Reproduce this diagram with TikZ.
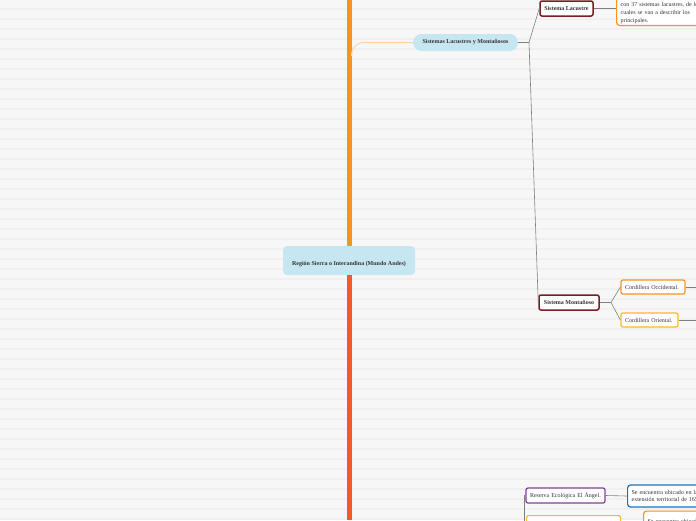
\documentclass[tikz,border=0pt]{standalone}
\usepackage{fontspec}
\setmainfont{Liberation Serif}
\usetikzlibrary{positioning}

\definecolor{bgcol}{HTML}{F7F7F7}
\definecolor{stripecol}{HTML}{F0F0F0}
\definecolor{trunkorange}{HTML}{F7941D}
\definecolor{trunkred}{HTML}{F15A29}
\definecolor{paleblue}{HTML}{C6E6F1}
\definecolor{maroon}{HTML}{7B1E23}
\definecolor{boxorange}{HTML}{F7941D}
\definecolor{boxyellow}{HTML}{FDB82B}
\definecolor{boxpurple}{HTML}{7E3F98}
\definecolor{boxblue}{HTML}{1C75BC}
\definecolor{paleorange}{HTML}{FDD3A5}
\definecolor{linegray}{HTML}{808080}
\definecolor{txt}{HTML}{333333}

\tikzset{
  tiny/.style={font=\fontsize{6}{7.6}\selectfont, text=txt},
  bold/.style={font=\fontsize{6}{7.6}\selectfont\bfseries, text=txt},
  topic/.style={fill=paleblue, inner sep=0pt},
  sub/.style={bold, draw=maroon, line width=1.5pt,
    fill=white, rounded corners=2pt, inner sep=0pt, minimum height=15},
  leaf/.style={tiny, draw=#1, line width=1.2pt, fill=white, rounded corners=2pt,
    inner xsep=4pt, inner ysep=0pt, minimum height=14, align=left},
  note/.style={tiny, draw=#1, line width=1.2pt, fill=white, rounded corners=3pt,
    inner sep=4pt, text width=110, align=left},
  link/.style={draw=linegray, line width=0.6pt},
}

\begin{document}
\begin{tikzpicture}[x=1pt,y=-1pt]
  \useasboundingbox (0,0) rectangle (696,520);
  \clip (0,0) rectangle (696,520);
  \fill[bgcol] (0,0) rectangle (696,520);
  \foreach \y in {9,19,...,519}
    \draw[stripecol, line width=1.5pt] (0,\y) -- (696,\y);

  % trunk
  \coordinate (top) at (349,0);
  \coordinate (bottom) at (349,520);
  \node[topic, rounded corners=4pt, minimum width=132, minimum height=29] (main) at (349,260.5) {};
  \node[bold] (maintext) at (349,264) {Región Sierra o Interandina (Mundo Andes)};
  \draw[trunkorange, line width=5pt] (top) -- (main.north);
  \draw[trunkred, line width=5pt] (main.south) -- (bottom);

  % first branch
  \node[topic, bold, rounded corners=8.5pt, minimum width=105, minimum height=17] (sist) at (465.5,42.5)
    {Sistemas Lacustres y Montañosos};
  \coordinate (trunkA) at (351.5,56);
  \draw[paleorange, line width=1pt, rounded corners=12pt] (sist.west) -| (trunkA);

  \node[sub, minimum width=53] (lac) at (566.5,8.5) {Sistema Lacustre};
  \node[sub, minimum width=60] (mon) at (569,302.5) {Sistema Montañoso};
  \coordinate (fork1) at (529,42.5);
  \draw[link] (sist.east) -- (fork1);
  \draw[link] (fork1) -- (lac.west);
  \draw[link] (fork1) -- (mon.west);

  \node[note=boxorange, inner ysep=2pt, anchor=south west] (lacnote) at (616,26)
    {\mbox{}\\con 37 sistemas lacustres, de los\\cuales se van a describir los\\principales.};
  \draw[link] (lac.east) -- (lac.east -| lacnote.west);

  \node[leaf=boxorange, text width=56] (occ) at (653,287) {Cordillera Occidental.};
  \node[leaf=boxyellow, text width=49] (ori) at (649.5,320) {Cordillera Oriental.};
  \coordinate (fork2) at (611,302.5);
  \draw[link] (mon.east) -- (fork2);
  \draw[link] (fork2) -- (occ.west);
  \draw[link] (fork2) -- (ori.west);
  \draw[link] (occ.east) -- ++(20,0);
  \draw[link] (ori.east) -- ++(25,0);

  % lower branch
  \node[leaf=boxpurple, text width=71, minimum height=15] (res) at (565.5,495.5)
    {Reserva Ecológica El Ángel.};
  \node[note=boxblue, anchor=west, minimum height=22] (resnote) at (627,496)
    {Se encuentra ubicado en la\\extensión territorial de 165};
  \draw[link] (res.east) -- (resnote.west);
  \draw[link] (res.west) -| (524,525);

  \node[leaf=boxyellow, anchor=north west, text width=86, minimum height=20] (yel) at (526,515) {};
  \node[note=boxorange, anchor=north west, minimum height=20] (low) at (643,510.5)
    {Se encuentra ubicado};
\end{tikzpicture}
\end{document}
